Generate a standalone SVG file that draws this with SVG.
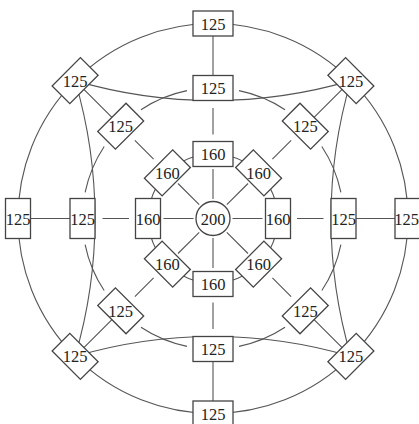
<svg xmlns="http://www.w3.org/2000/svg" width="419" height="424" viewBox="0 0 419 424">
<style>
.e{fill:none;stroke:#555;stroke-width:1.1}
.n rect,.n circle{fill:#fff;stroke:#444;stroke-width:1.3}
.n text{font-family:"Liberation Serif","DejaVu Serif",serif;font-size:16.5px;fill:#222;text-anchor:middle}
</style>
<rect width="419" height="424" fill="#fff"/>
<g id="connectors">
<circle class="e" cx="213" cy="218.5" r="195"/>
<circle class="e" cx="213" cy="218.5" r="64.5"/>
<path class="e" d="M340.88,244.52A130.5,130.5 0 0 1 321.82,290.53M285.03,327.32A130.5,130.5 0 0 1 239.02,346.38M186.98,346.38A130.5,130.5 0 0 1 140.97,327.32M104.18,290.53A130.5,130.5 0 0 1 85.12,244.52M85.12,192.48A130.5,130.5 0 0 1 104.18,146.47M140.97,109.68A130.5,130.5 0 0 1 186.98,90.62M239.02,90.62A130.5,130.5 0 0 1 285.03,109.68M321.82,146.47A130.5,130.5 0 0 1 340.88,192.48"/>
<path class="e" d="M213,199V169M213,238V268M193.5,218.5H163.5M232.5,218.5H262.5M199.21,204.71L178,183.5M226.79,204.71L248,183.5M199.21,232.29L178,253.5M226.79,232.29L248,253.5"/>
<path class="e" d="M213,134.5V108M213,302.5V329M129,218.5H102.5M297,218.5H323.5M153.6,159.1L134.86,140.36M272.4,159.1L291.14,140.36M153.6,277.9L134.86,296.64M272.4,277.9L291.14,296.64"/>
<path class="e" d="M213,88V23.5M213,349V413.5M82.5,218.5H18M343.5,218.5H408M120.72,126.22L75.11,80.61M305.28,126.22L350.89,80.61M120.72,310.78L75.11,356.39M305.28,310.78L350.89,356.39"/>
<path class="e" d="M75.11,80.61A487.7,487.7 0 0 0 213,100.5M350.89,80.61A487.7,487.7 0 0 1 213,100.5M75.11,80.61A487.7,487.7 0 0 1 95,218.5M75.11,356.39A487.7,487.7 0 0 0 95,218.5M350.89,80.61A487.7,487.7 0 0 0 331,218.5M350.89,356.39A487.7,487.7 0 0 1 331,218.5M75.11,356.39A487.7,487.7 0 0 1 213,336.5M350.89,356.39A487.7,487.7 0 0 0 213,336.5"/>
</g>
<g id="nodes">
<g id="c0" class="n"><circle cx="213" cy="218.5" r="17"/><text x="213" y="224.5">200</text></g>
<g id="i_t" class="n"><rect x="193" y="141.5" width="40" height="25"/><text x="213" y="159.5">160</text></g>
<g id="i_b" class="n"><rect x="193" y="271.5" width="40" height="25"/><text x="213" y="289.5">160</text></g>
<g id="i_l" class="n"><rect x="135.5" y="198.5" width="25" height="40"/><text x="148" y="224.5">160</text></g>
<g id="i_r" class="n"><rect x="265.5" y="198.5" width="25" height="40"/><text x="278" y="224.5">160</text></g>
<g id="i_ul" class="n"><rect x="-20" y="-12.5" width="40" height="25" transform="translate(167.39,172.89) rotate(-45)"/><text x="167.39" y="178.89">160</text></g>
<g id="i_ur" class="n"><rect x="-20" y="-12.5" width="40" height="25" transform="translate(258.61,172.89) rotate(45)"/><text x="258.61" y="178.89">160</text></g>
<g id="i_ll" class="n"><rect x="-20" y="-12.5" width="40" height="25" transform="translate(167.39,264.11) rotate(45)"/><text x="167.39" y="270.11">160</text></g>
<g id="i_lr" class="n"><rect x="-20" y="-12.5" width="40" height="25" transform="translate(258.61,264.11) rotate(-45)"/><text x="258.61" y="270.11">160</text></g>
<g id="m_t" class="n"><rect x="193" y="75.5" width="40" height="25"/><text x="213" y="94">125</text></g>
<g id="m_b" class="n"><rect x="193" y="336.5" width="40" height="25"/><text x="213" y="355">125</text></g>
<g id="m_l" class="n"><rect x="70" y="198.5" width="25" height="40"/><text x="82.5" y="224.5">125</text></g>
<g id="m_r" class="n"><rect x="331" y="198.5" width="25" height="40"/><text x="343.5" y="224.5">125</text></g>
<g id="m_ul" class="n"><rect x="-20" y="-12.5" width="40" height="25" transform="translate(120.72,126.22) rotate(-45)"/><text x="120.72" y="132.22">125</text></g>
<g id="m_ur" class="n"><rect x="-20" y="-12.5" width="40" height="25" transform="translate(305.28,126.22) rotate(45)"/><text x="305.28" y="132.22">125</text></g>
<g id="m_ll" class="n"><rect x="-20" y="-12.5" width="40" height="25" transform="translate(120.72,310.78) rotate(45)"/><text x="120.72" y="316.78">125</text></g>
<g id="m_lr" class="n"><rect x="-20" y="-12.5" width="40" height="25" transform="translate(305.28,310.78) rotate(-45)"/><text x="305.28" y="316.78">125</text></g>
<g id="o_t" class="n"><rect x="193" y="11" width="40" height="25"/><text x="213" y="29.5">125</text></g>
<g id="o_b" class="n"><rect x="193" y="401" width="40" height="25"/><text x="213" y="419.5">125</text></g>
<g id="o_l" class="n"><rect x="5.5" y="198.5" width="25" height="40"/><text x="18" y="224.5">125</text></g>
<g id="o_r" class="n"><rect x="395" y="198.5" width="25" height="40"/><text x="406.5" y="224.5">125</text></g>
<g id="o_ul" class="n"><rect x="-20" y="-12.5" width="40" height="25" transform="translate(75.11,80.61) rotate(-45)"/><text x="75.11" y="86.61">125</text></g>
<g id="o_ur" class="n"><rect x="-20" y="-12.5" width="40" height="25" transform="translate(350.89,80.61) rotate(45)"/><text x="350.89" y="86.61">125</text></g>
<g id="o_ll" class="n"><rect x="-20" y="-12.5" width="40" height="25" transform="translate(75.11,356.39) rotate(45)"/><text x="75.11" y="362.39">125</text></g>
<g id="o_lr" class="n"><rect x="-20" y="-12.5" width="40" height="25" transform="translate(350.89,356.39) rotate(-45)"/><text x="350.89" y="362.39">125</text></g>
</g>
</svg>
